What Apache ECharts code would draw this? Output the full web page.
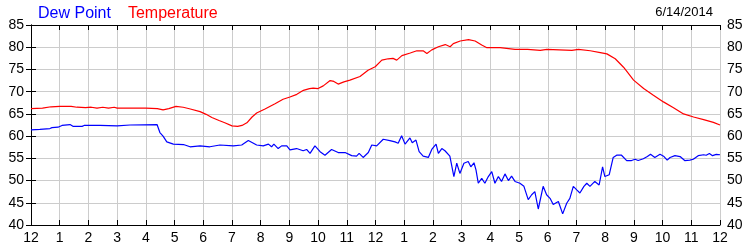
<!DOCTYPE html>
<html>
<head>
<meta charset="utf-8">
<script src="https://cdn.jsdelivr.net/npm/echarts@6/dist/echarts.min.js"></script>
<style>
html,body{margin:0;padding:0;background:#fff;}
#chart{width:750px;height:250px;}
</style>
</head>
<body>
<div id="chart"></div>
<script>
// Hour labels for x ticks (0..24)
var hourLabels = ['12','1','2','3','4','5','6','7','8','9','10','11','12','1','2','3','4','5','6','7','8','9','10','11','12'];
var dateLabel = '6/14/2014';

// Temperature: hours since midnight, degrees F
var tempHours = [0.00,0.40,0.70,1.00,1.40,1.60,1.90,2.10,2.30,2.50,2.70,2.90,3.00,3.50,4.00,4.40,4.60,4.80,5.05,5.30,5.55,5.89,6.10,6.30,6.55,6.75,7.00,7.20,7.35,7.52,7.70,7.86,8.15,8.50,8.78,9.02,9.26,9.49,9.70,9.83,10.00,10.18,10.42,10.55,10.70,10.90,11.11,11.46,11.74,11.99,12.22,12.44,12.61,12.74,12.92,13.21,13.44,13.66,13.79,13.96,14.19,14.43,14.60,14.71,14.95,15.24,15.47,15.70,15.88,16.34,16.86,17.30,17.74,17.97,18.40,18.84,19.07,19.48,19.83,20.06,20.35,20.64,20.99,21.34,21.68,22.03,22.38,22.73,23.08,23.43,23.77,24.00];
var tempValues = [66.2,66.3,66.6,66.7,66.7,66.5,66.4,66.5,66.3,66.5,66.3,66.5,66.3,66.3,66.3,66.2,65.9,66.2,66.7,66.5,66.1,65.5,64.9,64.2,63.5,63.0,62.3,62.2,62.4,63.0,64.3,65.2,66.1,67.3,68.3,68.8,69.4,70.3,70.7,70.8,70.7,71.3,72.5,72.3,71.7,72.2,72.6,73.4,74.8,75.6,77.1,77.4,77.5,77.1,78.1,78.7,79.2,79.2,78.6,79.4,80.1,80.6,80.1,80.8,81.4,81.7,81.4,80.5,79.9,79.9,79.5,79.5,79.3,79.5,79.4,79.3,79.5,79.2,78.8,78.5,77.4,75.5,72.6,70.7,69.2,67.7,66.4,65.0,64.3,63.7,63.1,62.5];

// Dew point: hours since midnight, degrees F
var dewHours = [0.00,0.31,0.66,0.73,0.94,1.08,1.36,1.46,1.78,1.85,2.40,3.00,3.45,4.39,4.49,4.60,4.73,4.96,5.31,5.54,5.89,6.23,6.58,7.05,7.34,7.57,7.86,8.09,8.27,8.38,8.46,8.61,8.73,8.91,9.02,9.25,9.48,9.60,9.72,9.89,10.07,10.24,10.47,10.70,10.94,11.17,11.34,11.43,11.57,11.75,11.87,12.04,12.27,12.33,12.50,12.68,12.79,12.91,13.03,13.20,13.28,13.41,13.52,13.66,13.84,13.96,14.11,14.19,14.31,14.42,14.59,14.73,14.83,14.94,15.08,15.23,15.32,15.43,15.50,15.58,15.70,15.81,15.93,16.05,16.16,16.28,16.39,16.51,16.63,16.74,16.86,17.03,17.17,17.32,17.44,17.55,17.67,17.84,17.96,18.08,18.19,18.37,18.52,18.66,18.77,18.89,19.01,19.12,19.26,19.36,19.47,19.64,19.79,19.91,19.99,20.14,20.28,20.40,20.57,20.75,20.92,21.04,21.15,21.33,21.47,21.58,21.73,21.91,22.05,22.16,22.26,22.43,22.61,22.77,22.95,23.07,23.24,23.43,23.52,23.63,23.74,23.87,24.00];
var dewValues = [61.4,61.5,61.7,61.9,62.0,62.4,62.6,62.2,62.2,62.4,62.4,62.3,62.5,62.6,60.8,60.0,58.7,58.2,58.1,57.6,57.8,57.6,58.0,57.8,58.0,59.0,58.0,57.8,58.2,57.6,58.2,57.2,57.8,57.8,56.9,57.2,56.7,57.0,56.1,57.8,56.5,55.7,57.0,56.3,56.3,55.6,55.5,56.1,55.2,56.3,58.0,57.8,59.3,59.5,59.0,58.7,58.4,60.1,58.2,59.6,58.5,59.1,56.5,55.5,55.2,57.0,58.2,56.1,57.2,56.7,55.5,50.9,53.9,51.6,53.9,54.3,53.1,54.0,52.4,49.4,50.5,49.4,50.9,52.0,49.4,50.9,49.8,51.5,50.0,51.0,49.8,49.4,48.7,45.7,46.8,47.5,43.6,48.7,46.8,46.0,44.6,45.3,42.5,44.9,46.0,48.7,47.9,47.2,48.7,49.4,48.7,49.8,49.0,53.1,50.9,51.3,55.2,55.7,55.7,54.5,54.5,54.8,54.5,54.9,55.4,55.9,55.2,55.9,55.4,54.6,55.2,55.6,55.4,54.5,54.6,54.8,55.6,55.8,55.7,56.1,55.6,55.9,55.8];

function pairs(xs, ys){ var out=[]; for(var i=0;i<xs.length;i++){ out.push([xs[i], ys[i]]); } return out; }

var FONT = '"Liberation Sans", Arial, sans-serif';
var chart = echarts.init(document.getElementById('chart'), null, {renderer:'canvas'});
var xCommon = {
  type:'value', min:0, max:24, interval:1,
  axisLine:{show:true, onZero:false, lineStyle:{color:'#000', width:1}},
  axisTick:{show:true, inside:true, length:5, lineStyle:{color:'#000'}}
};
var yCommon = {
  type:'value', min:40, max:85, interval:5,
  axisLine:{show:true, lineStyle:{color:'#000', width:1}},
  axisTick:{show:true, inside:true, length:5, lineStyle:{color:'#000'}},
  axisLabel:{color:'#000', fontSize:14, fontFamily:FONT, margin:7}
};
chart.setOption({
  animation:false,
  title:{text:dateLabel, right:32, top:1, textStyle:{fontSize:13, fontWeight:'normal', color:'#000', fontFamily:FONT}},
  legend:{
    left:28, top:1, icon:'none', itemWidth:0, itemHeight:14, itemGap:12,
    textStyle:{fontSize:16, fontFamily:FONT},
    data:[{name:'Dew Point', textStyle:{color:'#0000ff'}},{name:'Temperature', textStyle:{color:'#ff0000'}}]
  },
  grid:{left:31, right:30, top:25, bottom:25, containLabel:false},
  xAxis:[
    Object.assign({}, xCommon, {
      position:'bottom',
      axisLabel:{color:'#000', fontSize:14, fontFamily:FONT, margin:6, formatter:function(v){ return hourLabels[Math.round(v)]; }},
      splitLine:{show:true, lineStyle:{color:'#cccccc', width:1}}
    }),
    Object.assign({}, xCommon, {
      position:'top',
      axisLabel:{show:false},
      splitLine:{show:false}
    })
  ],
  yAxis:[
    Object.assign({}, yCommon, {position:'left', splitLine:{show:true, lineStyle:{color:'#cccccc', width:1}}}),
    Object.assign({}, yCommon, {position:'right', splitLine:{show:false}})
  ],
  series:[
    {name:'Dew Point', type:'line', xAxisIndex:0, yAxisIndex:0, showSymbol:false, symbol:'none',
     lineStyle:{color:'#0000ff', width:1.2}, itemStyle:{color:'#0000ff'}, data:pairs(dewHours, dewValues)},
    {name:'Temperature', type:'line', xAxisIndex:0, yAxisIndex:0, showSymbol:false, symbol:'none',
     lineStyle:{color:'#ff0000', width:1.2}, itemStyle:{color:'#ff0000'}, data:pairs(tempHours, tempValues)}
  ]
});
</script>
</body>
</html>
